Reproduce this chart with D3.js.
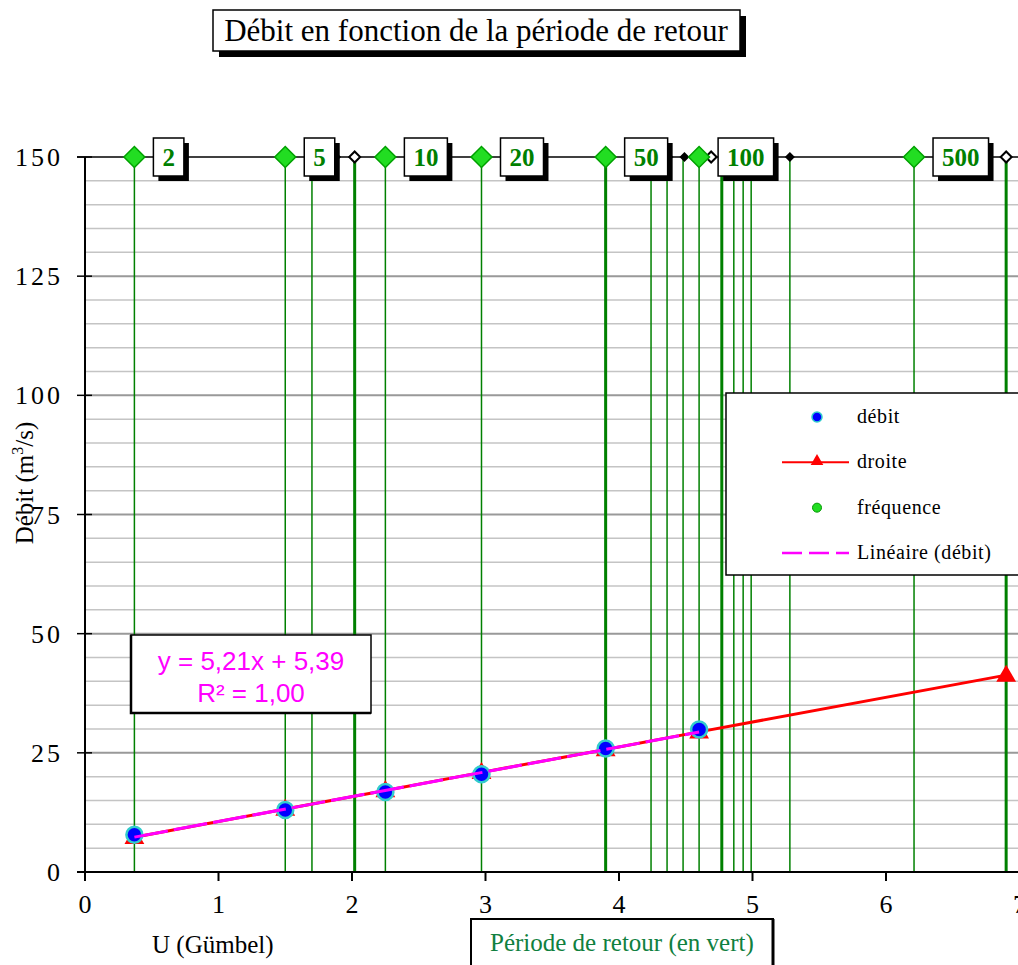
<!DOCTYPE html>
<html lang="fr">
<head>
<meta charset="UTF-8">
<title>Débit en fonction de la période de retour</title>
<script src="https://d3js.org/d3.v7.min.js"></script>
<style>
  body { margin: 0; background: #fff; }
  svg { display: block; font-family: "Liberation Serif", "Times New Roman", serif; }
</style>
</head>
<body>
<div id="chart"></div>
<script>
// débit mesuré, en fonction de la variable réduite de Gumbel
var gumbelU = [0.37, 1.50, 2.25, 2.97, 3.90, 4.60];
var debit = [7.8, 13.0, 16.8, 20.5, 25.9, 29.9];

// série "droite"
var droiteU = [0.37, 1.50, 2.25, 2.97, 3.90, 4.60, 6.90];
var droiteQ = [7.3, 13.2, 17.1, 20.9, 25.7, 29.4, 41.3];

// série "fréquence" : périodes de retour posées en haut du graphique
var freqU = [0.37, 1.50, 2.25, 2.97, 3.90, 4.60, 6.21];
var freqLabels = ["2", "5", "10", "20", "50", "100", "500"];
var freqLevel = 150;

// autres repères sur la ligne du haut
var hollowU = [2.02, 4.69, 6.90];
var blackU = [1.88, 4.37, 4.49, 5.28];

// verticales vertes supplémentaires
var extraLinesU = [1.70, 4.24, 4.36, 4.48, 4.86, 4.93, 4.99, 5.28];
var thickLinesU = [2.02, 3.90, 4.77, 6.90];

// tendance linéaire (débit)
var slope = 5.21, intercept = 5.39;
var equationLines = ["y = 5,21x + 5,39", "R² = 1,00"];

var xTicks = [0, 1, 2, 3, 4, 5, 6, 7];
var yTicks = [0, 25, 50, 75, 100, 125, 150];
var legendItems = ["débit", "droite", "fréquence", "Linéaire (débit)"];

var width = 1018, height = 965;
var green = "#008000";

var svg = d3.select("#chart").append("svg")
    .attr("width", width)
    .attr("height", height);

var x = d3.scaleLinear().domain([0, 7]).range([85, 1019.5]);
var y = d3.scaleLinear().domain([0, 150]).range([872, 157]);

// losange = carré tourné de 45°
function diamond(size) {
    return d3.symbol().type(d3.symbolSquare).size(size)();
}
function at(u) {
    return "translate(" + x(u) + "," + y(freqLevel) + ") rotate(45)";
}

// grille horizontale : fine tous les 5, plus marquée tous les 25
svg.append("g").selectAll("line")
    .data(d3.range(5, 150, 5))
    .join("line")
    .attr("x1", x(0)).attr("x2", width)
    .attr("y1", d => y(d)).attr("y2", d => y(d))
    .attr("stroke", d => d % 25 === 0 ? "#999" : "#c4c4c4")
    .attr("stroke-width", d => d % 25 === 0 ? 2 : 1.5);

// verticales vertes (périodes de retour)
var vlines = svg.append("g");
vlines.selectAll("line.f")
    .data(freqU.concat(extraLinesU))
    .join("line")
    .attr("class", "f")
    .attr("x1", d => x(d)).attr("x2", d => x(d))
    .attr("y1", y(freqLevel)).attr("y2", y(0))
    .attr("stroke", green).attr("stroke-width", 1.5);
vlines.selectAll("line.t")
    .data(thickLinesU)
    .join("line")
    .attr("class", "t")
    .attr("x1", d => x(d)).attr("x2", d => x(d))
    .attr("y1", y(freqLevel)).attr("y2", y(0))
    .attr("stroke", green).attr("stroke-width", 3);

// droite
var line = d3.line().x(d => x(d[0])).y(d => y(d[1]));
svg.append("path")
    .datum(d3.zip(droiteU, droiteQ))
    .attr("d", line)
    .attr("fill", "none")
    .attr("stroke", "#ff0000")
    .attr("stroke-width", 3);

var tri = d3.symbol().type(d3.symbolTriangle).size(170);
svg.append("g").selectAll("path")
    .data(d3.zip(droiteU, droiteQ))
    .join("path")
    .attr("d", tri)
    .attr("transform", d => "translate(" + x(d[0]) + "," + (y(d[1]) + 1) + ")")
    .attr("fill", "#ff0000");

// points de débit
svg.append("g").selectAll("circle")
    .data(d3.zip(gumbelU, debit))
    .join("circle")
    .attr("cx", d => x(d[0])).attr("cy", d => y(d[1]))
    .attr("r", 8)
    .attr("fill", "#0000ff")
    .attr("stroke", "#33cccc")
    .attr("stroke-width", 2.5);

// tendance linéaire
var u0 = d3.min(gumbelU), u1 = d3.max(gumbelU);
svg.append("path")
    .datum([[u0, slope * u0 + intercept], [u1, slope * u1 + intercept]])
    .attr("d", line)
    .attr("fill", "none")
    .attr("stroke", "#ff00ff")
    .attr("stroke-width", 3)
    .attr("stroke-dasharray", "34,6");

// équation
var eq = svg.append("g");
eq.append("rect")
    .attr("x", 131).attr("y", 635).attr("width", 240).attr("height", 78)
    .attr("fill", "#fff").attr("stroke", "#000").attr("stroke-width", 1.5);
eq.append("path")
    .attr("d", "M131,635V713H371")
    .attr("fill", "none").attr("stroke", "#000").attr("stroke-width", 2.5);
eq.selectAll("text")
    .data(equationLines)
    .join("text")
    .attr("x", 251).attr("y", (d, i) => 670 + i * 32)
    .attr("text-anchor", "middle")
    .attr("font-family", "'Liberation Sans', Arial, sans-serif")
    .attr("font-size", 26)
    .attr("fill", "#ff00ff")
    .text(d => d);

// légende
var lg = svg.append("g");
lg.append("rect")
    .attr("x", 726).attr("y", 393).attr("width", 310).attr("height", 182)
    .attr("fill", "#fff").attr("stroke", "#000").attr("stroke-width", 1.5);
var rowY = d3.scalePoint().domain(legendItems).range([417, 553]);
var mx = 817;
lg.append("circle").attr("cx", mx).attr("cy", rowY("débit")).attr("r", 5)
    .attr("fill", "#0000ff").attr("stroke", "#33cccc").attr("stroke-width", 1.5);
lg.append("line").attr("x1", 782).attr("x2", 849)
    .attr("y1", rowY("droite")).attr("y2", rowY("droite"))
    .attr("stroke", "#ff0000").attr("stroke-width", 2);
lg.append("path").attr("d", d3.symbol().type(d3.symbolTriangle).size(70))
    .attr("transform", "translate(" + mx + "," + (rowY("droite") - 1) + ")")
    .attr("fill", "#ff0000");
lg.append("circle").attr("cx", mx).attr("cy", rowY("fréquence")).attr("r", 4.5)
    .attr("fill", "#22dd22").attr("stroke", "#009900").attr("stroke-width", 1);
lg.append("line").attr("x1", 782).attr("x2", 849)
    .attr("y1", rowY("Linéaire (débit)")).attr("y2", rowY("Linéaire (débit)"))
    .attr("stroke", "#ff00ff").attr("stroke-width", 2.5)
    .attr("stroke-dasharray", "20,7");
lg.selectAll("text")
    .data(legendItems)
    .join("text")
    .attr("x", 857).attr("y", d => rowY(d) + 6)
    .attr("font-size", 20)
    .attr("letter-spacing", 0.6)
    .text(d => d);

// axes
var xAxis = svg.append("g");
xAxis.append("line")
    .attr("x1", 77).attr("x2", width)
    .attr("y1", y(0)).attr("y2", y(0))
    .attr("stroke", "#000").attr("stroke-width", 2);
xAxis.selectAll("line.tick")
    .data(xTicks)
    .join("line")
    .attr("class", "tick")
    .attr("x1", d => x(d)).attr("x2", d => x(d))
    .attr("y1", y(0)).attr("y2", y(0) + 9)
    .attr("stroke", "#000").attr("stroke-width", 2);
xAxis.selectAll("text")
    .data(xTicks)
    .join("text")
    .attr("x", d => x(d)).attr("y", y(0) + 41)
    .attr("text-anchor", "middle")
    .attr("font-size", 26)
    .text(d => d);

var yAxis = svg.append("g");
yAxis.append("line")
    .attr("x1", x(0)).attr("x2", x(0))
    .attr("y1", y(150)).attr("y2", y(0))
    .attr("stroke", "#000").attr("stroke-width", 2);
yAxis.selectAll("line.tick")
    .data(yTicks)
    .join("line")
    .attr("class", "tick")
    .attr("x1", 77).attr("x2", 92)
    .attr("y1", d => y(d)).attr("y2", d => y(d))
    .attr("stroke", "#000").attr("stroke-width", 1.5);
yAxis.selectAll("text")
    .data(yTicks)
    .join("text")
    .attr("x", 63).attr("y", d => y(d) + 9)
    .attr("text-anchor", "end")
    .attr("font-size", 26)
    .attr("letter-spacing", 3)
    .text(d => d);

var ylab = svg.append("text")
    .attr("transform", "translate(33,483) rotate(-90)")
    .attr("text-anchor", "middle")
    .attr("font-size", 25);
ylab.append("tspan").text("Débit (m");
ylab.append("tspan").attr("font-size", 16).attr("dy", -10).text("3");
ylab.append("tspan").attr("dy", 10).text("/s)");

// ligne du haut, repères et étiquettes des périodes de retour
var topRow = svg.append("g");
topRow.append("line")
    .attr("x1", 77).attr("x2", width)
    .attr("y1", y(freqLevel)).attr("y2", y(freqLevel))
    .attr("stroke", "#000").attr("stroke-width", 1.5);

topRow.selectAll("path.black")
    .data(blackU)
    .join("path")
    .attr("class", "black")
    .attr("d", diamond(50))
    .attr("transform", at)
    .attr("fill", "#000");
topRow.selectAll("path.hollow")
    .data(hollowU)
    .join("path")
    .attr("class", "hollow")
    .attr("d", diamond(60))
    .attr("transform", at)
    .attr("fill", "#fff").attr("stroke", "#000").attr("stroke-width", 2);

var labels = topRow.selectAll("g.lab")
    .data(d3.zip(freqU, freqLabels))
    .join("g")
    .attr("class", "lab")
    .attr("transform", d => "translate(" + (x(d[0]) + 19) + "," + (y(freqLevel) - 19) + ")");
labels.each(function(d) {
    var g = d3.select(this);
    var shadow = g.append("rect");
    var box = g.append("rect");
    var t = g.append("text")
        .attr("y", 28)
        .attr("text-anchor", "middle")
        .attr("font-size", 25)
        .attr("font-weight", "bold")
        .attr("fill", green)
        .text(d[1]);
    var w = t.node().getComputedTextLength() + 18;
    t.attr("x", w / 2);
    shadow.attr("x", 5).attr("y", 5).attr("width", w).attr("height", 38).attr("fill", "#000");
    box.attr("width", w).attr("height", 38)
        .attr("fill", "#fff").attr("stroke", "#000").attr("stroke-width", 1.5);
});

topRow.selectAll("path.freq")
    .data(freqU)
    .join("path")
    .attr("class", "freq")
    .attr("d", diamond(220))
    .attr("transform", at)
    .attr("fill", "#22dd22").attr("stroke", "#00a000").attr("stroke-width", 1.5);

// titre
var title = svg.append("g");
title.append("rect").attr("x", 219).attr("y", 16).attr("width", 527).attr("height", 41).attr("fill", "#000");
title.append("rect").attr("x", 213).attr("y", 10).attr("width", 527).attr("height", 41)
    .attr("fill", "#fff").attr("stroke", "#000").attr("stroke-width", 1.5);
title.append("text")
    .attr("x", 476).attr("y", 41)
    .attr("text-anchor", "middle")
    .attr("font-size", 31)
    .text("Débit en fonction de la période de retour");

// titres sous l'axe des x
svg.append("text")
    .attr("x", 152).attr("y", 953)
    .attr("font-size", 25)
    .text("U (Gümbel)");

svg.append("rect")
    .attr("x", 471).attr("y", 919).attr("width", 302).attr("height", 60)
    .attr("fill", "#fff").attr("stroke", "#000").attr("stroke-width", 2);
svg.append("line")
    .attr("x1", 773).attr("x2", 773).attr("y1", 919).attr("y2", height)
    .attr("stroke", "#000").attr("stroke-width", 3);
svg.append("text")
    .attr("x", 490).attr("y", 951)
    .attr("font-size", 25)
    .attr("fill", "#108040")
    .text("Période de retour (en vert)");
</script>
</body>
</html>
